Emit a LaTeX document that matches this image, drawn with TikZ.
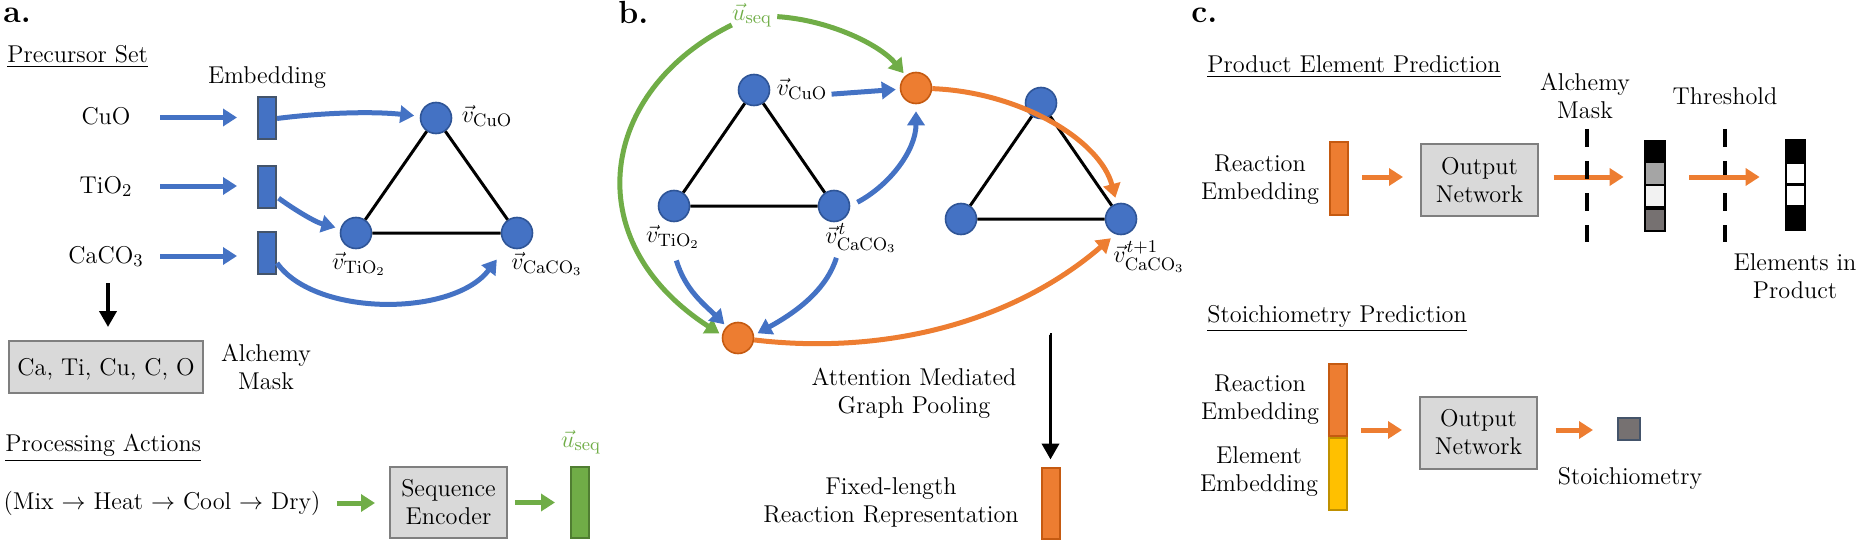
\documentclass[tikz,border=0pt]{standalone}
\usepackage{amsmath}
\usetikzlibrary{arrows.meta, positioning}
\DeclareMathSizes{12.15}{12.15}{8.6}{6.2}

\definecolor{flowblue}{HTML}{4472C4}
\definecolor{flowgreen}{HTML}{70AD47}
\definecolor{floworange}{HTML}{ED7D31}
\definecolor{edgeblue}{HTML}{2F5597}
\definecolor{edgeslate}{HTML}{44546A}
\definecolor{edgegreen}{HTML}{507E32}
\definecolor{edgeorange}{HTML}{C55A11}
\definecolor{boxfill}{HTML}{D9D9D9}
\definecolor{boxline}{HTML}{7F7F7F}
\definecolor{elemyellow}{HTML}{FFC000}
\definecolor{edgeyellow}{HTML}{BF9000}
\definecolor{midgray}{HTML}{A5A5A5}
\definecolor{lightcell}{HTML}{F2F2F2}
\definecolor{darkcell}{HTML}{767171}

\tikzset{
  txt/.style={font=\fontsize{12.15}{14}\selectfont, align=center, inner sep=0pt},
  head/.style={txt, anchor=base west},
  panel/.style={font=\fontsize{16}{16}\selectfont\bfseries, anchor=base west, inner sep=0pt},
  species/.style={txt, text height=9pt, text depth=2pt},
  vert/.style={circle, draw=edgeblue, fill=flowblue, line width=0.8pt, minimum size=15.5pt, inner sep=0pt},
  pool/.style={circle, draw=edgeorange, fill=floworange, line width=0.8pt, minimum size=15.5pt, inner sep=0pt},
  bar/.style={rectangle, line width=1pt, inner sep=0pt, minimum width=9pt},
  emb/.style={bar, draw=edgeslate, fill=flowblue, minimum height=21pt},
  netbox/.style={txt, rectangle, draw=boxline, fill=boxfill, line width=1pt},
  cell/.style={rectangle, inner sep=0pt, minimum width=9pt},
  flow/.style={line width=2.5pt, -{Triangle[length=7pt,width=8.5pt]}},
  heavy/.style={line width=1.9pt, -{Triangle[length=8pt,width=8.5pt]}},
  tri/.style={line width=1.5pt},
  maskline/.style={line width=2.2pt, dash pattern=on 9pt off 7pt}
}

\begin{document}
\begin{tikzpicture}[x=0.5pt, y=-0.5pt]
  \useasboundingbox (0,0) rectangle (1858,540);

  % panel a
  \node[panel] (la) at (3,23) {a.};
  \node[head] (hprec) at (7,62.7) {\underline{Precursor Set}};
  \node[txt] (hemb) at (267,78) {Embedding};
  \node[species] (cuo) at (106,117.5) {CuO};
  \node[species] (tio) at (106,186) {TiO$_2$};
  \node[species] (caco) at (106,256) {CaCO$_3$};
  \node[emb] (emb1) at (267,118.5) {};
  \node[emb] (emb2) at (267,187) {};
  \node[emb] (emb3) at (267,253) {};
  \node[vert] (vcu) at (436,118) {};
  \node[vert] (vti) at (356,233) {};
  \node[vert] (vca) at (517,233) {};
  \node[txt] (lcu) at (487,116) {$\vec{v}_{\mathrm{CuO}}$};
  \node[txt] (lti) at (359,264) {$\vec{v}_{\mathrm{TiO}_2}$};
  \node[txt] (lca) at (547,264) {$\vec{v}_{\mathrm{CaCO}_3}$};
  \draw[tri] (vcu) -- (vti) -- (vca) -- (vcu);
  \draw[flow, draw=flowblue, shorten <=27pt, shorten >=10pt] (cuo.center) -- (cuo.center -| emb1.west);
  \draw[flow, draw=flowblue, shorten <=27pt, shorten >=10pt] (tio.center) -- (tio.center -| emb2.west);
  \draw[flow, draw=flowblue, shorten <=27pt, shorten >=10pt] (caco.center) -- (caco.center -| emb3.west);
  \draw[flow, draw=flowblue, shorten >=2.8pt] (emb1.east) .. controls (320,113) and (370,111) .. (vcu);
  \draw[flow, draw=flowblue, shorten <=1pt, shorten >=2.5pt] (emb2.-45) .. controls (295,210) and (315,222) .. (vti);
  \draw[flow, draw=flowblue, shorten >=8.5pt] (emb3.-45) .. controls (315,317) and (453,317) .. (vca);
  \node[netbox, text depth=0pt, minimum width=97pt, minimum height=26pt] (maskbox) at (106,367) {Ca, Ti, Cu, C, O};
  \node[txt] (lmask) at (266,367) {Alchemy\\Mask};
  \draw[heavy, shorten <=8pt, shorten >=6.5pt] ([xshift=1pt]caco.south) -- ([xshift=1pt]maskbox.north);
  \node[head] (hproc) at (5,451.7) {\underline{Processing Actions}};
  \node[txt] (mix) at (162,503) {(Mix $\rightarrow$ Heat $\rightarrow$ Cool $\rightarrow$ Dry)};
  \node[netbox, minimum width=58.5pt, minimum height=35.5pt] (enc) at (448.5,502.5) {Sequence\\Encoder};
  \node[bar, draw=edgegreen, fill=flowgreen, minimum height=35.5pt] (useqbar) at (580,502.5) {};
  \node[txt, text=flowgreen] (luseq) at (581,442) {$\vec{u}_{\mathrm{seq}}$};
  \draw[flow, draw=flowgreen, shorten <=8pt, shorten >=7pt] (mix.east) -- (mix.east -| enc.west);
  \draw[flow, draw=flowgreen, shorten <=3.5pt, shorten >=7.5pt] (enc.east) -- (useqbar.west);

  % panel b
  \node[panel] (lb) at (618,24) {b.};
  \node[txt, text=flowgreen] (useq) at (752,15) {$\vec{u}_{\mathrm{seq}}$};
  \node[vert] (bcu) at (754,90) {};
  \node[vert] (bti) at (674,206) {};
  \node[vert] (bca) at (834,206) {};
  \node[vert] (ccu) at (1041,103) {};
  \node[vert] (cti) at (961,219) {};
  \node[vert] (cca) at (1121,219) {};
  \draw[tri] (bcu) -- (bti) -- (bca) -- (bcu);
  \draw[tri] (ccu) -- (cti) -- (cca) -- (ccu);
  \node[pool] (poolup) at (916,88) {};
  \node[pool] (pooldown) at (738,338) {};
  \node[txt] (lbcu) at (802,89) {$\vec{v}_{\mathrm{CuO}}$};
  \node[txt] (lbti) at (673,237) {$\vec{v}_{\mathrm{TiO}_2}$};
  \node[txt] (lbca) at (861,238) {$\vec{v}^{\mkern1mu t}_{\mathrm{CaCO}_3}$};
  \node[txt] (lcca) at (1149,257) {$\vec{v}^{\mkern1mu t+1}_{\mathrm{CaCO}_3}$};
  \draw[flow, draw=flowgreen, shorten <=2.5pt, shorten >=1.5pt] (useq) .. controls (830,20) and (880,45) .. (poolup);
  \draw[flow, draw=flowgreen, shorten >=1.5pt] (useq) .. controls (600,90) and (575,240) .. (pooldown.170);
  \draw[flow, draw=flowblue, shorten <=2pt, shorten >=2pt] (lbcu.-12) -- (poolup);
  \draw[flow, draw=flowblue, shorten <=4pt, shorten >=3.5pt] (bca.east) .. controls (890,185) and (916,150) .. (poolup);
  \draw[flow, draw=flowblue, shorten <=6pt, shorten >=1.5pt] (lbti.south) .. controls (685,290) and (705,305) .. (pooldown);
  \draw[flow, draw=flowblue, shorten <=2.5pt, shorten >=2pt] (lbca.-147) .. controls (828,285) and (804,308) .. (pooldown.10);
  \draw[flow, draw=floworange, shorten >=2.8pt] (poolup) .. controls (1020,92) and (1100,140) .. (cca);
  \draw[flow, draw=floworange, shorten >=3pt] (pooldown) .. controls (880,355) and (1010,325) .. (cca.-110);
  \coordinate (poolstart) at (1050,335);
  \node[bar, draw=edgeorange, fill=floworange, minimum height=35.5pt] (fixedbar) at (1050.5,503) {};
  \draw[heavy, shorten >=3.5pt] (poolstart) -- (poolstart -| fixedbar.north) -- (fixedbar.north);
  \node[txt] (lpool) at (914,393.5) {Attention Mediated\\Graph Pooling};
  \node[txt] (lfixed) at (891,502.5) {Fixed-length\\Reaction Representation};

  % panel c
  \node[panel] (lc) at (1191,23) {c.};
  \node[head] (helem) at (1207,73) {\underline{Product Element Prediction}};
  \coordinate (rowa) at (0,177);
  \node[txt] (lreact) at (1260,179.5) {Reaction\\Embedding};
  \node[bar, draw=edgeorange, fill=floworange, minimum height=36.5pt] (reactbar) at (1339,178.5) {};
  \node[netbox, minimum width=58.5pt, minimum height=36pt] (outa) at (1479.5,180) {Output\\Network};
  \node[txt] (lmaska) at (1585,96) {Alchemy\\Mask};
  \node[txt] (lthres) at (1725,96) {Threshold};
  \node[cell, fill=black, minimum width=11pt, minimum height=46pt] (stacka) at (1655,186) {};
  \node[cell, fill=midgray] (sa1) at (1655,173.5) [minimum height=10.5pt] {};
  \node[cell, fill=lightcell] (sa2) at (1655,196) [minimum height=10pt] {};
  \node[cell, fill=darkcell] (sa3) at (1655,220) [minimum height=10pt] {};
  \node[cell, fill=black, minimum width=10.5pt, minimum height=46pt] (stackb) at (1795.5,185) {};
  \node[cell, fill=white, minimum width=8.5pt, minimum height=9.5pt] (sb1) at (1795.5,173.5) {};
  \node[cell, fill=white, minimum width=8.5pt, minimum height=9.5pt] (sb2) at (1795.5,195.5) {};
  \node[txt] (lprod) at (1795,276) {Elements in\\Product};
  \coordinate (maskatop) at (1587,129);
  \coordinate (maskabot) at (1587,242);
  \coordinate (maskbtop) at (1725,129);
  \coordinate (maskbbot) at (1725,242);
  \draw[flow, draw=floworange, shorten <=6.5pt, shorten >=8.5pt] (reactbar.east |- rowa) -- (outa.west |- rowa);
  \draw[flow, draw=floworange, shorten <=7.25pt, shorten >=10pt] (outa.east |- rowa) -- (stacka.west |- rowa);
  \draw[maskline] (maskatop) -- (maskabot);
  \draw[maskline] (maskbtop) -- (maskbbot);
  \draw[flow, draw=floworange, shorten <=11.5pt, shorten >=12.5pt] (stacka.east |- rowa) -- (stackb.west |- rowa);
  \node[head] (hstoi) at (1207,322) {\underline{Stoichiometry Prediction}};
  \coordinate (rowb) at (0,430);
  \node[txt] (lreactb) at (1260,400) {Reaction\\Embedding};
  \node[txt] (lelem) at (1259,472) {Element\\Embedding};
  \node[bar, draw=edgeorange, fill=floworange, minimum height=36pt] (reactb) at (1338,400) {};
  \node[bar, draw=edgeyellow, fill=elemyellow, minimum height=36pt] (elemb) at (1338,473.5) {};
  \node[netbox, minimum width=58.5pt, minimum height=36pt] (outb) at (1478.5,432.5) {Output\\Network};
  \node[rectangle, draw=edgeslate, fill=darkcell, line width=1pt, inner sep=0pt, minimum width=11pt, minimum height=11pt] (stoibox) at (1629,429) {};
  \node[txt] (lstoi) at (1630,478) {Stoichiometry};
  \draw[flow, draw=floworange, shorten <=6.5pt, shorten >=8.5pt] (reactb.east |- rowb) -- (outb.west |- rowb);
  \draw[flow, draw=floworange, shorten <=9pt, shorten >=12pt] (outb.east |- rowb) -- (stoibox.west |- rowb);
\end{tikzpicture}
\end{document}
